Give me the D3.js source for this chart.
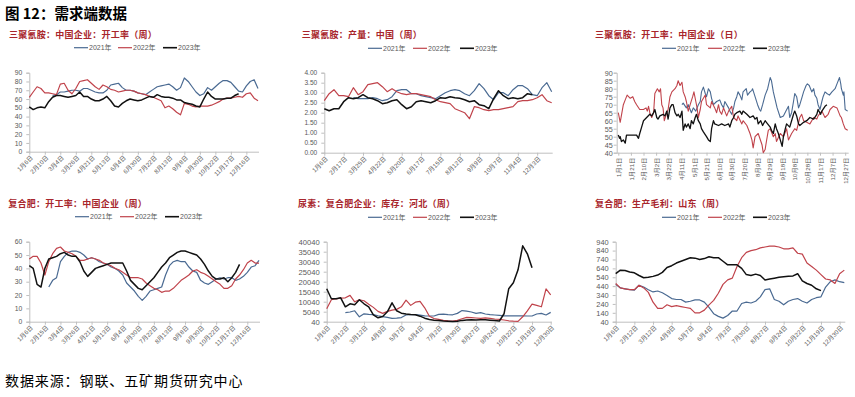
<!DOCTYPE html>
<html>
<head>
<meta charset="utf-8">
<script src="https://cdn.jsdelivr.net/npm/d3@7"></script>
<style>
  body { margin: 0; background: #fff; }
  svg text { font-family: Arial, "Liberation Sans", "Noto Sans CJK SC", sans-serif; }
</style>
</head>
<body>
<div id="vis"></div>
<script>
// ---- series names / colours ----
var years = ['2021年', '2022年', '2023年'];
var yearColors = ['#4a6a92', '#c0434b', '#111111'];

// ---- panel 1: 三聚氰胺 开工率 (周) ----
var rateLabels = ['1月6日','2月10日','3月4日','3月26日','4月21日','5月13日','6月4日','6月30日','7月22日','8月13日','9月8日','9月30日','10月22日','11月17日','12月16日'];
var rate2021 = [null,null,null,null,null,null,64,65,68,68,69,70,70,69,72,72,70,68,67,67,70,76,77,78,73,70,70,69,67,66,65,68,71,74,75,76,77,74,70,73,84,80,74,68,64,66,73,70,74,78,81,81,79,74,69,68,75,80,82,72];
var rate2022 = [62,68,74,72,67,67,66,65,77,78,70,66,72,80,81,82,78,74,71,76,74,71,70,68,69,70,70,69,67,66,65,63,62,60,58,50,52,49,45,42,55,54,52,51,52,52,52,53,55,57,60,61,61,62,63,62,66,67,61,58];
var rate2023 = [51,48,50,51,50,57,62,64,64,63,62,63,64,68,63,63,60,58,58,60,63,58,52,51,55,58,60,59,58,59,61,63,62,65,63,62,62,61,59,59,56,55,54,52,51,60,68,63,60,60,60,61,61,64,66];

// ---- panel 2: 三聚氰胺 产量 (周) ----
var outputLabels = ['1月6日','2月17日','3月25日','4月22日','5月20日','6月17日','7月15日','8月12日','9月9日','10月7日','11月4日','12月3日'];
var output2021 = [null,null,null,null,null,null,2.75,2.7,2.7,2.7,2.75,2.7,2.6,2.65,2.8,3.1,3.15,3.15,2.95,2.95,2.85,2.8,2.75,2.7,2.85,3.0,3.1,3.15,3.1,2.95,2.85,3.1,3.45,3.2,2.85,2.65,3.0,3.0,2.85,3.15,3.35,3.35,3.2,2.9,2.85,3.25,3.5,3.05];
var output2022 = [2.6,2.95,3.15,2.85,2.85,2.8,3.25,2.9,3.05,3.4,3.45,3.5,3.3,3.05,3.2,3.05,2.95,2.9,2.95,2.95,2.9,2.85,2.8,2.65,2.55,2.5,2.45,2.2,2.1,2.0,1.7,2.3,2.25,2.15,2.1,2.15,2.15,2.2,2.25,2.3,2.55,2.6,2.6,2.65,2.75,2.9,2.6,2.5];
var output2023 = [2.2,2.1,2.2,2.2,2.55,2.75,2.7,2.75,2.9,2.75,2.7,2.6,2.45,2.5,2.6,2.65,2.4,2.2,2.3,2.55,2.6,2.55,2.5,2.6,2.75,2.72,2.8,2.75,2.72,2.65,2.55,2.6,2.4,2.35,2.2,2.7,3.1,2.85,2.7,2.75,2.7,2.75,2.95,2.9];

// ---- panel 3: 三聚氰胺 开工率 (日), [day of year, value] ----
var dailyLabels = ['1月1日','1月21日','2月10日','3月2日','3月22日','4月11日','5月1日','5月21日','6月10日','6月30日','7月20日','8月9日','8月29日','9月18日','10月8日','10月28日','11月17日','12月7日','12月27日'];
var daily2021 = [[101,70],[103,71],[108,68],[111,70],[116,65],[119,68],[123,66],[127,70],[130,72],[132,78],[135,81],[138,77],[140,75],[143,80],[146,78],[148,74],[151,70],[156,72],[161,73],[164,70],[167,68],[169,72],[175,68],[177,66],[180,64],[183,68],[185,72],[188,75],[190,78],[193,76],[196,73],[198,78],[203,80],[205,76],[209,78],[212,79],[213,80],[217,75],[221,70],[224,67],[226,66],[229,70],[233,76],[237,80],[241,87],[243,85],[246,78],[249,73],[252,68],[257,62],[262,63],[266,66],[270,69],[272,62],[275,65],[278,72],[280,77],[283,75],[286,68],[288,70],[291,74],[294,78],[298,82],[300,83],[303,82],[307,78],[310,80],[312,76],[315,74],[317,70],[320,67],[323,72],[325,75],[328,78],[331,77],[335,76],[339,78],[344,80],[347,83],[351,87],[353,83],[354,80],[357,76],[358,78],[360,67],[364,66]];
var daily2022 = [[0,65],[3,59],[8,70],[11,73],[14,76],[19,74],[23,75],[26,72],[29,70],[34,67],[40,67],[44,68],[46,66],[48,69],[50,65],[53,62],[56,65],[58,77],[62,80],[65,78],[67,80],[69,70],[71,68],[73,60],[77,65],[79,67],[82,75],[85,78],[90,80],[93,82],[95,85],[98,82],[101,84],[103,78],[106,75],[108,72],[111,66],[114,70],[118,75],[120,78],[123,72],[125,68],[127,62],[130,67],[132,72],[135,74],[138,76],[140,70],[146,68],[148,72],[153,68],[156,65],[159,70],[161,66],[164,64],[167,68],[172,63],[175,66],[180,69],[183,62],[188,60],[190,63],[196,58],[198,60],[204,57],[209,52],[212,48],[214,43],[217,50],[222,52],[228,45],[230,40],[233,42],[235,47],[238,54],[241,55],[246,50],[249,52],[251,47],[257,52],[262,50],[267,55],[270,48],[275,52],[280,55],[283,54],[288,62],[291,64],[294,60],[299,59],[304,58],[310,62],[315,61],[317,63],[323,66],[328,62],[333,64],[336,67],[341,69],[347,68],[352,63],[354,62],[357,58],[360,55],[364,54]];
var daily2023 = [[0,51],[2,49],[3,50],[5,47],[8,48],[11,46],[13,51],[19,51],[26,51],[29,51],[32,49],[34,52],[37,56],[40,60],[45,62],[50,64],[53,63],[56,65],[58,67],[61,62],[63,61],[66,63],[71,64],[74,63],[77,66],[79,61],[82,68],[85,70],[87,70],[90,65],[93,63],[95,64],[98,62],[101,66],[103,54],[106,58],[108,56],[111,58],[114,55],[116,60],[119,58],[122,62],[124,64],[127,60],[130,58],[132,55],[135,53],[140,50],[143,48],[146,47],[148,55],[151,60],[153,58],[159,57],[164,58],[169,57],[175,58],[177,56],[180,60],[183,62],[185,64],[188,65],[193,66],[196,64],[198,66],[204,64],[209,62],[214,63],[217,61],[220,62],[222,58],[226,60],[229,57],[233,60],[235,59],[241,56],[243,54],[246,52],[249,58],[251,55],[254,52],[257,48],[260,44],[262,50],[265,55],[267,58],[272,56],[275,60],[278,64],[280,66],[283,63],[286,58],[288,57],[294,59],[299,60],[304,62],[310,61],[315,64],[317,67],[321,64],[323,66],[328,69],[331,70]];

// ---- panel 4: 复合肥 开工率 (周) ----
var fertLabels = ['1月6日','2月15日','3月4日','3月26日','4月21日','5月13日','6月4日','6月30日','7月22日','8月13日','9月8日','9月30日','10月22日','11月17日','12月16日'];
var fert2021 = [null,null,null,null,null,26,31,33,45,49,52,53,53,52,50,47,48,47,45,44,43,41,40,38,35,29,26,23,19,16,19,23,24,25,26,35,42,45,46,45,45,41,38,37,31,29,28,30,32,33,32,33,33,31,32,34,37,41,42,46];
var fert2022 = [47,49,49,44,35,45,51,55,56,53,52,51,49,46,46,47,48,47,46,44,43,42,40,39,37,35,33,33,33,32,29,27,25,24,22,23,23,25,28,31,33,35,38,39,37,36,34,32,30,28,25,25,27,32,35,39,44,46,44,44];
var fert2023 = [42,40,28,26,40,47,48,49,51,52,50,49,49,45,38,34,37,40,41,42,43,44,44,44,44,38,31,28,25,24,27,30,33,37,41,44,48,50,52,53,53,52,51,50,47,43,38,34,32,32,33,30,33,37,43];

// ---- panel 5: 复合肥企业 库存 河北 (周) ----
var stockLabels = ['1月6日','2月12日','3月12日','4月9日','5月7日','6月4日','7月2日','7月30日','8月27日','9月24日','10月22日','11月19日','12月30日'];
var stock2021 = [null,null,null,null,4600,4900,5500,2500,4000,3700,3600,3000,2600,2200,1700,1800,2100,3400,3600,3600,3300,3000,2900,2900,3700,3800,3600,3500,4200,5600,5300,4900,4200,4600,3900,3600,3400,3200,3000,3000,3000,3000,3000,2900,2900,3900,4200,3400,4700];
var stock2022 = [6500,11000,11500,11800,12000,13200,10000,11000,10500,8800,7200,5200,4200,5200,5800,6200,7500,10800,8200,9800,10200,7000,2800,1600,1200,700,500,400,700,1500,2200,2100,1900,1700,2000,1700,1400,1200,900,500,300,200,2500,5500,8800,8200,7500,16500,13500];
var stock2023 = [16500,11500,11500,12000,7500,9000,8500,11000,9000,7500,3500,2000,2600,5000,9500,5500,4300,3900,3600,3500,2800,1800,1100,800,600,400,300,100,300,700,900,1000,900,1000,1000,800,600,400,4000,16500,19500,26000,38000,34000,27000];

// ---- panel 6: 复合肥 生产毛利 山东 (周) ----
var profitLabels = ['1月6日','2月12日','3月12日','4月9日','5月7日','6月4日','7月2日','7月30日','8月27日','9月24日','10月22日','11月19日','12月30日'];
var profit2021 = [460,420,410,400,395,450,430,400,375,385,365,335,300,290,290,260,270,285,285,260,200,130,100,80,110,160,160,245,260,250,270,320,400,410,290,270,230,270,290,300,270,250,290,310,320,430,490,510,490,480];
var profit2022 = [470,420,410,400,400,450,420,370,260,190,190,230,210,220,210,200,190,140,140,170,230,280,360,460,510,530,660,760,820,840,850,870,880,890,890,880,860,860,870,810,800,700,660,620,570,520,510,470,580,620];
var profit2023 = [580,620,615,600,590,560,535,540,550,565,595,650,670,700,720,740,760,755,740,750,770,760,760,720,680,680,680,640,570,560,575,560,510,520,530,540,545,550,555,580,500,470,450,410,390];

var width = 855, height = 397;
var svg = d3.select('#vis').append('svg').attr('width', width).attr('height', height);

// figure title + source
svg.append('text').attr('x', 5).attr('y', 19).attr('font-size', 14.5).attr('font-weight', 700)
  .attr('fill', '#000').style('font-family', '"Noto Sans CJK SC", sans-serif').text('图 12：需求端数据');
svg.append('text').attr('x', 5).attr('y', 386).attr('font-size', 14).attr('letter-spacing', 0.9)
  .attr('fill', '#000').style('font-family', '"Noto Sans CJK SC", sans-serif').text('数据来源：钢联、五矿期货研究中心');

function range(a, b, s) { return d3.range(a, b + s / 2, s); }

var panels = [
  { title: '三聚氰胺：中国企业：开工率（周）', tx: 9, ty: 37.5, legY: 47.7, legX: [74, 118, 163],
    left: 29.3, x0: 29.3, x1: 258, top: 72.7, bottom: 151.7, yDomain: [0, 90], yTicks: range(0, 90, 10), yFmt: d3.format('d'), yFont: 6.8,
    series: [rate2021, rate2022, rate2023], labels: rateLabels, step: 4, rot: -45 },
  { title: '三聚氰胺：产量：中国（周）', tx: 301.7, ty: 37.5, legY: 48.3, legX: [368, 413, 460],
    left: 324.3, x0: 324.3, x1: 551.7, top: 72.7, bottom: 152.7, yDomain: [0, 4], yTicks: range(0, 4, 0.5), yFmt: d3.format('.2f'), yFont: 6.6,
    series: [output2021, output2022, output2023], labels: outputLabels, step: 4, rot: -45 },
  { title: '三聚氰胺：开工率：中国企业（日）', tx: 595, ty: 37.5, legY: 48.3, legX: [662, 708, 753],
    left: 616.7, x0: 618.3, x1: 847.7, top: 72.7, bottom: 152.7, yDomain: [40, 90], yTicks: range(40, 90, 5), yFmt: d3.format('d'), yFont: 7.2,
    daily: [daily2021, daily2022, daily2023], labels: dailyLabels, rot: -90 },
  { title: '复合肥：开工率：中国企业（周）', tx: 8.3, ty: 206.5, legY: 216.7, legX: [75, 120, 165],
    left: 29.3, x0: 29.3, x1: 259, top: 241.7, bottom: 321.7, yDomain: [0, 60], yTicks: range(0, 60, 10), yFmt: d3.format('d'), yFont: 6.8,
    series: [fert2021, fert2022, fert2023], labels: fertLabels, step: 4, rot: -45 },
  { title: '尿素：复合肥企业：库存：河北（周）', tx: 298, ty: 206.5, legY: 217.3, legX: [368, 413, 460],
    left: 326.7, x0: 326.7, x1: 550.7, top: 241.7, bottom: 321.7, yDomain: [40, 40040], yTicks: range(40, 40040, 5000), yFmt: d3.format('d'), yFont: 7.6,
    series: [stock2021, stock2022, stock2023], labels: stockLabels, step: 4, rot: -45 },
  { title: '复合肥：生产毛利：山东（周）', tx: 595, ty: 206.5, legY: 217.3, legX: [662, 708, 753],
    left: 615.7, x0: 615.7, x1: 844.3, top: 241.7, bottom: 321.7, yDomain: [40, 940], yTicks: range(40, 940, 100), yFmt: d3.format('d'), yFont: 7.4,
    series: [profit2021, profit2022, profit2023], labels: profitLabels, step: 4, rot: -45 }
];

panels.forEach(function(p) {
  var g = svg.append('g');

  // title
  g.append('text').attr('x', p.tx).attr('y', p.ty).attr('font-size', 9).attr('font-weight', 700)
    .attr('letter-spacing', 0.25).attr('fill', '#a8262c')
    .style('font-family', '"Noto Sans CJK SC", sans-serif').text(p.title);

  // legend
  years.forEach(function(yr, i) {
    g.append('line').attr('x1', p.legX[i]).attr('x2', p.legX[i] + 14)
      .attr('y1', p.legY).attr('y2', p.legY)
      .attr('stroke', yearColors[i]).attr('stroke-width', i === 2 ? 1.6 : 1.2);
    g.append('text').attr('x', p.legX[i] + 15).attr('y', p.legY).attr('dy', '0.35em')
      .attr('font-size', 7).attr('fill', '#595959').text(yr);
  });

  // scales
  var n, x;
  if (p.daily) {
    x = d3.scaleLinear().domain([0, 364]).range([p.x0, p.x1]);
  } else {
    n = d3.max(p.series, function(s) { return s.length; });
    n = Math.max(n, p.series[0].length, p.series[1].length);
    x = d3.scaleLinear().domain([0, n - 1]).range([p.x0, p.x1]);
  }
  var y = d3.scaleLinear().domain(p.yDomain).range([p.bottom, p.top]);

  // y axis
  var yAxis = d3.axisLeft(y).tickValues(p.yTicks).tickFormat(p.yFmt).tickSize(3).tickPadding(p.daily ? 1 : 4);
  var ya = g.append('g').attr('transform', 'translate(' + p.left + ',0)').call(yAxis);
  ya.select('.domain').attr('stroke', '#bfbfbf');
  ya.selectAll('.tick line').attr('stroke', '#bfbfbf');
  ya.selectAll('.tick text').attr('font-size', p.yFont).attr('fill', '#595959');

  // x axis
  var tickVals = p.daily ? p.labels.map(function(d, i) { return i * 20; })
                         : p.labels.map(function(d, i) { return i * p.step; });
  var xAxis = d3.axisBottom(x).tickValues(tickVals)
    .tickFormat(function(d, i) { return p.labels[i]; }).tickSize(3).tickSizeOuter(0);
  var xa = g.append('g').attr('transform', 'translate(0,' + p.bottom + ')').call(xAxis);
  xa.select('.domain').attr('stroke', '#bfbfbf')
    .attr('d', 'M' + p.left + ',0.5H' + (p.x1 + 1));
  xa.selectAll('.tick line').attr('stroke', '#bfbfbf');
  var xt = xa.selectAll('.tick text').attr('font-size', 6.2).attr('fill', '#595959')
    .attr('text-anchor', 'end').attr('x', 0).attr('y', 0).attr('dy', '0.35em');
  if (p.rot === -90) xt.attr('transform', 'translate(0,5) rotate(-90)');
  else xt.attr('transform', 'translate(2,5) rotate(-45)');

  // lines
  var lineFn;
  if (p.daily) {
    lineFn = d3.line().x(function(d) { return x(d[0]); }).y(function(d) { return y(d[1]); });
    p.daily.forEach(function(s, i) {
      g.append('path').datum(s).attr('d', lineFn).attr('fill', 'none')
        .attr('stroke', yearColors[i]).attr('stroke-width', i === 2 ? 1.3 : 1.1)
        .attr('stroke-linejoin', 'round');
    });
  } else {
    lineFn = d3.line().defined(function(d) { return d != null; })
      .x(function(d, i) { return x(i); }).y(function(d) { return y(d); });
    p.series.forEach(function(s, i) {
      g.append('path').datum(s).attr('d', lineFn).attr('fill', 'none')
        .attr('stroke', yearColors[i]).attr('stroke-width', i === 2 ? 1.5 : 1.2)
        .attr('stroke-linejoin', 'round');
    });
  }
});
</script>
</body>
</html>
